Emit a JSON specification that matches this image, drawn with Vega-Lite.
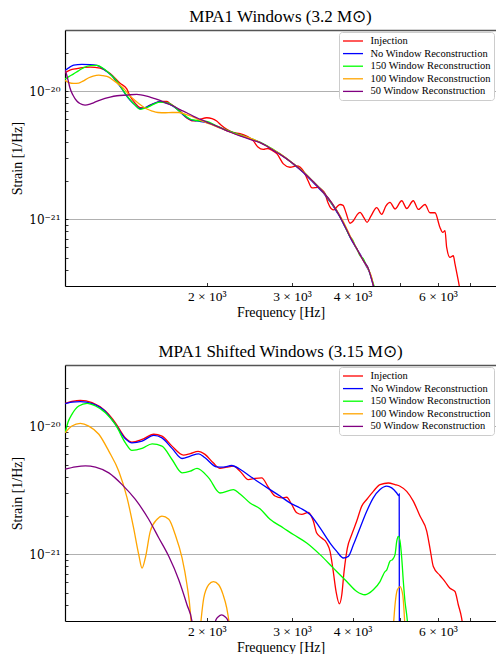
{
"$schema": "https://vega.github.io/schema/vega-lite/v6.json",
"padding": {"left": 10, "top": 8, "right": 0, "bottom": 0},
"spacing": 24,
"config": {
  "font": "Liberation Serif",
  "view": {"stroke": null},
  "title": {"font": "Liberation Serif", "fontSize": 17, "fontWeight": "normal", "color": "#000", "offset": 4},
  "axis": {"domainColor": "#000", "domainWidth": 1.2, "tickColor": "#000", "tickWidth": 0.8,
           "labelFont": "Liberation Serif", "labelFontSize": 13.5, "labelColor": "#000",
           "titleFont": "Liberation Serif", "titleFontSize": 14, "titleFontWeight": "normal", "titleColor": "#000"},
  "legend": {"labelFont": "Liberation Serif", "labelFontSize": 10.5, "labelColor": "#000"}
},
"resolve": {"legend": {"color": "independent"}},
"datasets": {
"w": [
{"k":"Injection","f":1020,"s":1.39e-20},{"k":"Injection","f":1044,"s":1.46e-20},{"k":"Injection","f":1079,"s":1.50e-20},{"k":"Injection","f":1149,"s":1.54e-20},{"k":"Injection","f":1205,"s":1.51e-20},{"k":"Injection","f":1264,"s":1.37e-20},{"k":"Injection","f":1325,"s":1.15e-20},{"k":"Injection","f":1368,"s":1.04e-20},{"k":"Injection","f":1389,"s":9.14e-21},{"k":"Injection","f":1423,"s":8.06e-21},{"k":"Injection","f":1457,"s":7.43e-21},{"k":"Injection","f":1492,"s":7.37e-21},{"k":"Injection","f":1528,"s":7.78e-21},{"k":"Injection","f":1565,"s":8.06e-21},{"k":"Injection","f":1602,"s":8.29e-21},{"k":"Injection","f":1654,"s":8.29e-21},{"k":"Injection","f":1680,"s":7.99e-21},{"k":"Injection","f":1720,"s":7.50e-21},{"k":"Injection","f":1762,"s":6.98e-21},{"k":"Injection","f":1819,"s":6.16e-21},{"k":"Injection","f":1877,"s":5.84e-21},{"k":"Injection","f":1937,"s":6.00e-21},{"k":"Injection","f":2000,"s":6.19e-21},{"k":"Injection","f":2051,"s":6.10e-21},{"k":"Injection","f":2097,"s":5.84e-21},{"k":"Injection","f":2140,"s":5.43e-21},{"k":"Injection","f":2200,"s":5.02e-21},{"k":"Injection","f":2266,"s":4.75e-21},{"k":"Injection","f":2343,"s":4.65e-21},{"k":"Injection","f":2418,"s":4.46e-21},{"k":"Injection","f":2457,"s":4.30e-21},{"k":"Injection","f":2496,"s":4.08e-21},{"k":"Injection","f":2551,"s":3.66e-21},{"k":"Injection","f":2617,"s":3.50e-21},{"k":"Injection","f":2676,"s":3.56e-21},{"k":"Injection","f":2741,"s":3.40e-21},{"k":"Injection","f":2793,"s":3.23e-21},{"k":"Injection","f":2879,"s":2.70e-21},{"k":"Injection","f":2971,"s":2.54e-21},{"k":"Injection","f":3068,"s":2.60e-21},{"k":"Injection","f":3166,"s":2.38e-21},{"k":"Injection","f":3237,"s":1.99e-21},{"k":"Injection","f":3299,"s":1.75e-21},{"k":"Injection","f":3400,"s":1.77e-21},{"k":"Injection","f":3460,"s":1.69e-21},{"k":"Injection","f":3509,"s":1.58e-21},{"k":"Injection","f":3559,"s":1.34e-21},{"k":"Injection","f":3611,"s":1.21e-21},{"k":"Injection","f":3662,"s":1.18e-21},{"k":"Injection","f":3715,"s":1.25e-21},{"k":"Injection","f":3769,"s":1.30e-21},{"k":"Injection","f":3823,"s":1.28e-21},{"k":"Injection","f":3877,"s":1.12e-21},{"k":"Injection","f":3952,"s":9.28e-22},{"k":"Injection","f":4015,"s":9.70e-22},{"k":"Injection","f":4086,"s":1.08e-21},{"k":"Injection","f":4144,"s":1.13e-21},{"k":"Injection","f":4224,"s":1.02e-21},{"k":"Injection","f":4285,"s":9.44e-22},{"k":"Injection","f":4367,"s":1.06e-21},{"k":"Injection","f":4486,"s":1.23e-21},{"k":"Injection","f":4594,"s":1.09e-21},{"k":"Injection","f":4688,"s":1.27e-21},{"k":"Injection","f":4778,"s":1.35e-21},{"k":"Injection","f":4894,"s":1.20e-21},{"k":"Injection","f":5052,"s":1.39e-21},{"k":"Injection","f":5173,"s":1.21e-21},{"k":"Injection","f":5337,"s":1.39e-21},{"k":"Injection","f":5466,"s":1.19e-21},{"k":"Injection","f":5643,"s":1.30e-21},{"k":"Injection","f":5778,"s":1.12e-21},{"k":"Injection","f":5917,"s":1.12e-21},{"k":"Injection","f":6059,"s":8.60e-22},{"k":"Injection","f":6138,"s":7.86e-22},{"k":"Injection","f":6205,"s":8.11e-22},{"k":"Injection","f":6255,"s":6.00e-22},{"k":"Injection","f":6354,"s":5.02e-22},{"k":"Injection","f":6455,"s":5.17e-22},{"k":"Injection","f":6507,"s":4.46e-22},{"k":"Injection","f":6610,"s":3.30e-22},{"k":"Injection","f":6700,"s":2.5e-22},
{"k":"No Window Reconstruction","f":1020,"s":1.445e-20},{"k":"No Window Reconstruction","f":1044,"s":1.54e-20},{"k":"No Window Reconstruction","f":1063,"s":1.595e-20},{"k":"No Window Reconstruction","f":1105,"s":1.615e-20},{"k":"No Window Reconstruction","f":1149,"s":1.61e-20},{"k":"No Window Reconstruction","f":1187,"s":1.587e-20},{"k":"No Window Reconstruction","f":1217,"s":1.51e-20},{"k":"No Window Reconstruction","f":1244,"s":1.42e-20},{"k":"No Window Reconstruction","f":1276,"s":1.31e-20},{"k":"No Window Reconstruction","f":1305,"s":1.175e-20},{"k":"No Window Reconstruction","f":1338,"s":1.036e-20},{"k":"No Window Reconstruction","f":1363,"s":9.31e-21},{"k":"No Window Reconstruction","f":1389,"s":8.51e-21},{"k":"No Window Reconstruction","f":1423,"s":7.78e-21},{"k":"No Window Reconstruction","f":1457,"s":7.30e-21},{"k":"No Window Reconstruction","f":1492,"s":7.43e-21},{"k":"No Window Reconstruction","f":1528,"s":7.74e-21},{"k":"No Window Reconstruction","f":1565,"s":8.06e-21},{"k":"No Window Reconstruction","f":1602,"s":8.26e-21},{"k":"No Window Reconstruction","f":1641,"s":8.14e-21},{"k":"No Window Reconstruction","f":1680,"s":7.88e-21},{"k":"No Window Reconstruction","f":1736,"s":7.24e-21},{"k":"No Window Reconstruction","f":1790,"s":6.50e-21},{"k":"No Window Reconstruction","f":1847,"s":6.00e-21},{"k":"No Window Reconstruction","f":1907,"s":5.84e-21},{"k":"No Window Reconstruction","f":2000,"s":5.68e-21},{"k":"No Window Reconstruction","f":2080,"s":5.38e-21},{"k":"No Window Reconstruction","f":2164,"s":5.03e-21},{"k":"No Window Reconstruction","f":2255,"s":4.75e-21},{"k":"No Window Reconstruction","f":2343,"s":4.50e-21},{"k":"No Window Reconstruction","f":2496,"s":4.15e-21},{"k":"No Window Reconstruction","f":2576,"s":3.97e-21},{"k":"No Window Reconstruction","f":2659,"s":3.72e-21},{"k":"No Window Reconstruction","f":2741,"s":3.46e-21},{"k":"No Window Reconstruction","f":2834,"s":3.21e-21},{"k":"No Window Reconstruction","f":2929,"s":2.95e-21},{"k":"No Window Reconstruction","f":3019,"s":2.685e-21},{"k":"No Window Reconstruction","f":3087,"s":2.51e-21},{"k":"No Window Reconstruction","f":3166,"s":2.31e-21},{"k":"No Window Reconstruction","f":3237,"s":2.12e-21},{"k":"No Window Reconstruction","f":3319,"s":1.93e-21},{"k":"No Window Reconstruction","f":3394,"s":1.77e-21},{"k":"No Window Reconstruction","f":3481,"s":1.60e-21},{"k":"No Window Reconstruction","f":3543,"s":1.465e-21},{"k":"No Window Reconstruction","f":3623,"s":1.315e-21},{"k":"No Window Reconstruction","f":3710,"s":1.14e-21},{"k":"No Window Reconstruction","f":3769,"s":1.035e-21},{"k":"No Window Reconstruction","f":3829,"s":9.20e-22},{"k":"No Window Reconstruction","f":3896,"s":8.11e-22},{"k":"No Window Reconstruction","f":3952,"s":7.21e-22},{"k":"No Window Reconstruction","f":4009,"s":6.53e-22},{"k":"No Window Reconstruction","f":4080,"s":5.84e-22},{"k":"No Window Reconstruction","f":4144,"s":5.32e-22},{"k":"No Window Reconstruction","f":4210,"s":4.77e-22},{"k":"No Window Reconstruction","f":4264,"s":4.32e-22},{"k":"No Window Reconstruction","f":4311,"s":4.02e-22},{"k":"No Window Reconstruction","f":4346,"s":3.74e-22},{"k":"No Window Reconstruction","f":4381,"s":3.37e-22},{"k":"No Window Reconstruction","f":4414,"s":3.0e-22},{"k":"No Window Reconstruction","f":4450,"s":2.66e-22},
{"k":"150 Window Reconstruction","f":1020,"s":1.24e-20},{"k":"150 Window Reconstruction","f":1039,"s":1.298e-20},{"k":"150 Window Reconstruction","f":1061,"s":1.357e-20},{"k":"150 Window Reconstruction","f":1085,"s":1.432e-20},{"k":"150 Window Reconstruction","f":1113,"s":1.52e-20},{"k":"150 Window Reconstruction","f":1149,"s":1.58e-20},{"k":"150 Window Reconstruction","f":1187,"s":1.587e-20},{"k":"150 Window Reconstruction","f":1211,"s":1.539e-20},{"k":"150 Window Reconstruction","f":1234,"s":1.47e-20},{"k":"150 Window Reconstruction","f":1264,"s":1.357e-20},{"k":"150 Window Reconstruction","f":1305,"s":1.197e-20},{"k":"150 Window Reconstruction","f":1344,"s":1.018e-20},{"k":"150 Window Reconstruction","f":1389,"s":8.58e-21},{"k":"150 Window Reconstruction","f":1423,"s":7.78e-21},{"k":"150 Window Reconstruction","f":1457,"s":7.20e-21},{"k":"150 Window Reconstruction","f":1492,"s":7.37e-21},{"k":"150 Window Reconstruction","f":1528,"s":7.64e-21},{"k":"150 Window Reconstruction","f":1565,"s":7.99e-21},{"k":"150 Window Reconstruction","f":1602,"s":8.21e-21},{"k":"150 Window Reconstruction","f":1641,"s":8.14e-21},{"k":"150 Window Reconstruction","f":1680,"s":7.96e-21},{"k":"150 Window Reconstruction","f":1736,"s":7.24e-21},{"k":"150 Window Reconstruction","f":1790,"s":6.58e-21},{"k":"150 Window Reconstruction","f":1847,"s":6.05e-21},{"k":"150 Window Reconstruction","f":1907,"s":5.89e-21},{"k":"150 Window Reconstruction","f":2000,"s":5.79e-21},{"k":"150 Window Reconstruction","f":2080,"s":5.43e-21},{"k":"150 Window Reconstruction","f":2164,"s":5.06e-21},{"k":"150 Window Reconstruction","f":2255,"s":4.79e-21},{"k":"150 Window Reconstruction","f":2343,"s":4.54e-21},{"k":"150 Window Reconstruction","f":2496,"s":4.19e-21},{"k":"150 Window Reconstruction","f":2659,"s":3.76e-21},{"k":"150 Window Reconstruction","f":2834,"s":3.23e-21},{"k":"150 Window Reconstruction","f":3019,"s":2.70e-21},{"k":"150 Window Reconstruction","f":3166,"s":2.34e-21},{"k":"150 Window Reconstruction","f":3319,"s":1.955e-21},{"k":"150 Window Reconstruction","f":3481,"s":1.63e-21},{"k":"150 Window Reconstruction","f":3623,"s":1.32e-21},{"k":"150 Window Reconstruction","f":3710,"s":1.16e-21},{"k":"150 Window Reconstruction","f":3829,"s":9.36e-22},{"k":"150 Window Reconstruction","f":3952,"s":7.28e-22},{"k":"150 Window Reconstruction","f":4009,"s":6.77e-22},{"k":"150 Window Reconstruction","f":4047,"s":6.19e-22},{"k":"150 Window Reconstruction","f":4086,"s":5.82e-22},{"k":"150 Window Reconstruction","f":4144,"s":5.17e-22},{"k":"150 Window Reconstruction","f":4210,"s":4.90e-22},{"k":"150 Window Reconstruction","f":4264,"s":4.40e-22},{"k":"150 Window Reconstruction","f":4311,"s":4.10e-22},{"k":"150 Window Reconstruction","f":4346,"s":3.74e-22},{"k":"150 Window Reconstruction","f":4388,"s":3.36e-22},{"k":"150 Window Reconstruction","f":4429,"s":3.0e-22},{"k":"150 Window Reconstruction","f":4461,"s":2.66e-22},
{"k":"100 Window Reconstruction","f":1020,"s":1.212e-20},{"k":"100 Window Reconstruction","f":1039,"s":1.165e-20},{"k":"100 Window Reconstruction","f":1063,"s":1.148e-20},{"k":"100 Window Reconstruction","f":1089,"s":1.154e-20},{"k":"100 Window Reconstruction","f":1111,"s":1.197e-20},{"k":"100 Window Reconstruction","f":1142,"s":1.27e-20},{"k":"100 Window Reconstruction","f":1166,"s":1.309e-20},{"k":"100 Window Reconstruction","f":1198,"s":1.333e-20},{"k":"100 Window Reconstruction","f":1222,"s":1.32e-20},{"k":"100 Window Reconstruction","f":1256,"s":1.286e-20},{"k":"100 Window Reconstruction","f":1282,"s":1.218e-20},{"k":"100 Window Reconstruction","f":1317,"s":1.128e-20},{"k":"100 Window Reconstruction","f":1351,"s":1.036e-20},{"k":"100 Window Reconstruction","f":1380,"s":9.43e-21},{"k":"100 Window Reconstruction","f":1423,"s":8.44e-21},{"k":"100 Window Reconstruction","f":1471,"s":7.64e-21},{"k":"100 Window Reconstruction","f":1506,"s":7.24e-21},{"k":"100 Window Reconstruction","f":1543,"s":6.98e-21},{"k":"100 Window Reconstruction","f":1587,"s":6.80e-21},{"k":"100 Window Reconstruction","f":1643,"s":6.77e-21},{"k":"100 Window Reconstruction","f":1696,"s":6.80e-21},{"k":"100 Window Reconstruction","f":1751,"s":6.80e-21},{"k":"100 Window Reconstruction","f":1804,"s":6.62e-21},{"k":"100 Window Reconstruction","f":1865,"s":6.33e-21},{"k":"100 Window Reconstruction","f":1956,"s":5.84e-21},{"k":"100 Window Reconstruction","f":2032,"s":5.53e-21},{"k":"100 Window Reconstruction","f":2130,"s":5.15e-21},{"k":"100 Window Reconstruction","f":2234,"s":4.79e-21},{"k":"100 Window Reconstruction","f":2343,"s":4.50e-21},{"k":"100 Window Reconstruction","f":2496,"s":4.19e-21},{"k":"100 Window Reconstruction","f":2659,"s":3.72e-21},{"k":"100 Window Reconstruction","f":2834,"s":3.23e-21},{"k":"100 Window Reconstruction","f":3019,"s":2.70e-21},{"k":"100 Window Reconstruction","f":3166,"s":2.34e-21},{"k":"100 Window Reconstruction","f":3319,"s":1.955e-21},{"k":"100 Window Reconstruction","f":3481,"s":1.62e-21},{"k":"100 Window Reconstruction","f":3623,"s":1.34e-21},{"k":"100 Window Reconstruction","f":3710,"s":1.17e-21},{"k":"100 Window Reconstruction","f":3829,"s":9.53e-22},{"k":"100 Window Reconstruction","f":3952,"s":7.41e-22},{"k":"100 Window Reconstruction","f":4080,"s":5.87e-22},{"k":"100 Window Reconstruction","f":4210,"s":4.73e-22},{"k":"100 Window Reconstruction","f":4311,"s":4.06e-22},{"k":"100 Window Reconstruction","f":4381,"s":3.48e-22},{"k":"100 Window Reconstruction","f":4418,"s":3.0e-22},{"k":"100 Window Reconstruction","f":4450,"s":2.66e-22},
{"k":"50 Window Reconstruction","f":1020,"s":1.458e-20},{"k":"50 Window Reconstruction","f":1025,"s":1.389e-20},{"k":"50 Window Reconstruction","f":1035,"s":1.218e-20},{"k":"50 Window Reconstruction","f":1044,"s":1.061e-20},{"k":"50 Window Reconstruction","f":1059,"s":9.31e-21},{"k":"50 Window Reconstruction","f":1079,"s":8.36e-21},{"k":"50 Window Reconstruction","f":1095,"s":7.99e-21},{"k":"50 Window Reconstruction","f":1122,"s":7.78e-21},{"k":"50 Window Reconstruction","f":1149,"s":7.92e-21},{"k":"50 Window Reconstruction","f":1168,"s":8.10e-21},{"k":"50 Window Reconstruction","f":1205,"s":8.51e-21},{"k":"50 Window Reconstruction","f":1264,"s":8.98e-21},{"k":"50 Window Reconstruction","f":1306,"s":9.19e-21},{"k":"50 Window Reconstruction","f":1368,"s":9.31e-21},{"k":"50 Window Reconstruction","f":1434,"s":9.43e-21},{"k":"50 Window Reconstruction","f":1504,"s":9.14e-21},{"k":"50 Window Reconstruction","f":1550,"s":8.82e-21},{"k":"50 Window Reconstruction","f":1602,"s":8.46e-21},{"k":"50 Window Reconstruction","f":1649,"s":8.06e-21},{"k":"50 Window Reconstruction","f":1706,"s":7.64e-21},{"k":"50 Window Reconstruction","f":1762,"s":7.17e-21},{"k":"50 Window Reconstruction","f":1819,"s":6.77e-21},{"k":"50 Window Reconstruction","f":1874,"s":6.38e-21},{"k":"50 Window Reconstruction","f":1937,"s":6.03e-21},{"k":"50 Window Reconstruction","f":2032,"s":5.58e-21},{"k":"50 Window Reconstruction","f":2130,"s":5.18e-21},{"k":"50 Window Reconstruction","f":2234,"s":4.79e-21},{"k":"50 Window Reconstruction","f":2343,"s":4.46e-21},{"k":"50 Window Reconstruction","f":2457,"s":4.19e-21},{"k":"50 Window Reconstruction","f":2576,"s":3.96e-21},{"k":"50 Window Reconstruction","f":2659,"s":3.72e-21},{"k":"50 Window Reconstruction","f":2745,"s":3.44e-21},{"k":"50 Window Reconstruction","f":2834,"s":3.20e-21},{"k":"50 Window Reconstruction","f":3019,"s":2.70e-21},{"k":"50 Window Reconstruction","f":3166,"s":2.32e-21},{"k":"50 Window Reconstruction","f":3319,"s":1.955e-21},{"k":"50 Window Reconstruction","f":3481,"s":1.62e-21},{"k":"50 Window Reconstruction","f":3623,"s":1.34e-21},{"k":"50 Window Reconstruction","f":3710,"s":1.16e-21},{"k":"50 Window Reconstruction","f":3829,"s":9.28e-22},{"k":"50 Window Reconstruction","f":3952,"s":7.28e-22},{"k":"50 Window Reconstruction","f":4080,"s":5.87e-22},{"k":"50 Window Reconstruction","f":4210,"s":4.73e-22},{"k":"50 Window Reconstruction","f":4311,"s":4.10e-22},{"k":"50 Window Reconstruction","f":4381,"s":3.36e-22},{"k":"50 Window Reconstruction","f":4418,"s":3.0e-22},{"k":"50 Window Reconstruction","f":4450,"s":2.66e-22}
],
"sh": [
{"k":"Injection","f":1021,"s":1.506e-20},{"k":"Injection","f":1054,"s":1.556e-20},{"k":"Injection","f":1097,"s":1.59e-20},{"k":"Injection","f":1160,"s":1.523e-20},{"k":"Injection","f":1236,"s":1.311e-20},{"k":"Injection","f":1296,"s":1.061e-20},{"k":"Injection","f":1359,"s":8.09e-21},{"k":"Injection","f":1402,"s":7.49e-21},{"k":"Injection","f":1471,"s":7.86e-21},{"k":"Injection","f":1555,"s":8.63e-21},{"k":"Injection","f":1617,"s":8.36e-21},{"k":"Injection","f":1696,"s":6.97e-21},{"k":"Injection","f":1790,"s":5.94e-21},{"k":"Injection","f":1850,"s":6.10e-21},{"k":"Injection","f":1920,"s":6.35e-21},{"k":"Injection","f":1984,"s":6.01e-21},{"k":"Injection","f":2063,"s":5.16e-21},{"k":"Injection","f":2130,"s":4.68e-21},{"k":"Injection","f":2200,"s":4.78e-21},{"k":"Injection","f":2270,"s":4.86e-21},{"k":"Injection","f":2343,"s":4.44e-21},{"k":"Injection","f":2437,"s":3.82e-21},{"k":"Injection","f":2516,"s":3.90e-21},{"k":"Injection","f":2597,"s":3.94e-21},{"k":"Injection","f":2680,"s":3.33e-21},{"k":"Injection","f":2767,"s":2.84e-21},{"k":"Injection","f":2857,"s":2.75e-21},{"k":"Injection","f":2925,"s":2.78e-21},{"k":"Injection","f":2995,"s":2.44e-21},{"k":"Injection","f":3068,"s":2.10e-21},{"k":"Injection","f":3141,"s":2.04e-21},{"k":"Injection","f":3242,"s":2.12e-21},{"k":"Injection","f":3319,"s":1.81e-21},{"k":"Injection","f":3373,"s":1.46e-21},{"k":"Injection","f":3455,"s":1.335e-21},{"k":"Injection","f":3537,"s":1.22e-21},{"k":"Injection","f":3594,"s":1.05e-21},{"k":"Injection","f":3641,"s":7.77e-22},{"k":"Injection","f":3698,"s":5.10e-22},{"k":"Injection","f":3757,"s":4.09e-22},{"k":"Injection","f":3800,"s":4.81e-22},{"k":"Injection","f":3841,"s":7.3e-22},{"k":"Injection","f":3901,"s":1.11e-21},{"k":"Injection","f":3984,"s":1.42e-21},{"k":"Injection","f":4080,"s":1.81e-21},{"k":"Injection","f":4178,"s":2.37e-21},{"k":"Injection","f":4278,"s":2.67e-21},{"k":"Injection","f":4414,"s":3.09e-21},{"k":"Injection","f":4557,"s":3.49e-21},{"k":"Injection","f":4740,"s":3.59e-21},{"k":"Injection","f":4894,"s":3.49e-21},{"k":"Injection","f":5011,"s":3.39e-21},{"k":"Injection","f":5173,"s":3.09e-21},{"k":"Injection","f":5337,"s":2.59e-21},{"k":"Injection","f":5510,"s":1.98e-21},{"k":"Injection","f":5689,"s":1.51e-21},{"k":"Injection","f":5778,"s":1.11e-21},{"k":"Injection","f":5870,"s":8.0e-22},{"k":"Injection","f":6059,"s":6.8e-22},{"k":"Injection","f":6205,"s":6.1e-22},{"k":"Injection","f":6354,"s":5.4e-22},{"k":"Injection","f":6507,"s":5.1e-22},{"k":"Injection","f":6610,"s":4.02e-22},{"k":"Injection","f":6717,"s":3.15e-22},{"k":"Injection","f":6759,"s":2.7e-22},
{"k":"No Window Reconstruction","f":1021,"s":1.495e-20},{"k":"No Window Reconstruction","f":1054,"s":1.54e-20},{"k":"No Window Reconstruction","f":1097,"s":1.55e-20},{"k":"No Window Reconstruction","f":1160,"s":1.495e-20},{"k":"No Window Reconstruction","f":1236,"s":1.295e-20},{"k":"No Window Reconstruction","f":1296,"s":1.03e-20},{"k":"No Window Reconstruction","f":1359,"s":7.95e-21},{"k":"No Window Reconstruction","f":1402,"s":7.39e-21},{"k":"No Window Reconstruction","f":1471,"s":7.63e-21},{"k":"No Window Reconstruction","f":1555,"s":8.47e-21},{"k":"No Window Reconstruction","f":1617,"s":8.09e-21},{"k":"No Window Reconstruction","f":1696,"s":6.69e-21},{"k":"No Window Reconstruction","f":1779,"s":5.58e-21},{"k":"No Window Reconstruction","f":1850,"s":5.83e-21},{"k":"No Window Reconstruction","f":1925,"s":6.07e-21},{"k":"No Window Reconstruction","f":1984,"s":5.65e-21},{"k":"No Window Reconstruction","f":2097,"s":4.80e-21},{"k":"No Window Reconstruction","f":2164,"s":4.78e-21},{"k":"No Window Reconstruction","f":2252,"s":4.92e-21},{"k":"No Window Reconstruction","f":2343,"s":4.60e-21},{"k":"No Window Reconstruction","f":2457,"s":4.06e-21},{"k":"No Window Reconstruction","f":2576,"s":3.59e-21},{"k":"No Window Reconstruction","f":2702,"s":3.19e-21},{"k":"No Window Reconstruction","f":2834,"s":2.84e-21},{"k":"No Window Reconstruction","f":2971,"s":2.51e-21},{"k":"No Window Reconstruction","f":3116,"s":2.29e-21},{"k":"No Window Reconstruction","f":3268,"s":2.04e-21},{"k":"No Window Reconstruction","f":3427,"s":1.60e-21},{"k":"No Window Reconstruction","f":3594,"s":1.22e-21},{"k":"No Window Reconstruction","f":3710,"s":1.05e-21},{"k":"No Window Reconstruction","f":3829,"s":9.32e-22},{"k":"No Window Reconstruction","f":3920,"s":9.6e-22},{"k":"No Window Reconstruction","f":4015,"s":1.18e-21},{"k":"No Window Reconstruction","f":4144,"s":1.60e-21},{"k":"No Window Reconstruction","f":4278,"s":2.16e-21},{"k":"No Window Reconstruction","f":4414,"s":2.75e-21},{"k":"No Window Reconstruction","f":4557,"s":3.19e-21},{"k":"No Window Reconstruction","f":4704,"s":3.39e-21},{"k":"No Window Reconstruction","f":4817,"s":3.29e-21},{"k":"No Window Reconstruction","f":4934,"s":3.0e-21},{"k":"No Window Reconstruction","f":4985,"s":2.85e-21},{"k":"No Window Reconstruction","f":4992,"s":2.95e-21},{"k":"No Window Reconstruction","f":4996,"s":2.0e-22},
{"k":"150 Window Reconstruction","f":1021,"s":8.87e-21},{"k":"150 Window Reconstruction","f":1035,"s":1.075e-20},{"k":"150 Window Reconstruction","f":1054,"s":1.235e-20},{"k":"150 Window Reconstruction","f":1089,"s":1.435e-20},{"k":"150 Window Reconstruction","f":1133,"s":1.506e-20},{"k":"150 Window Reconstruction","f":1179,"s":1.435e-20},{"k":"150 Window Reconstruction","f":1236,"s":1.272e-20},{"k":"150 Window Reconstruction","f":1296,"s":1.03e-20},{"k":"150 Window Reconstruction","f":1359,"s":7.39e-21},{"k":"150 Window Reconstruction","f":1402,"s":6.46e-21},{"k":"150 Window Reconstruction","f":1471,"s":6.69e-21},{"k":"150 Window Reconstruction","f":1543,"s":7.26e-21},{"k":"150 Window Reconstruction","f":1617,"s":6.97e-21},{"k":"150 Window Reconstruction","f":1696,"s":5.48e-21},{"k":"150 Window Reconstruction","f":1779,"s":4.31e-21},{"k":"150 Window Reconstruction","f":1850,"s":4.44e-21},{"k":"150 Window Reconstruction","f":1910,"s":4.68e-21},{"k":"150 Window Reconstruction","f":2019,"s":3.94e-21},{"k":"150 Window Reconstruction","f":2130,"s":3.0e-21},{"k":"150 Window Reconstruction","f":2270,"s":3.19e-21},{"k":"150 Window Reconstruction","f":2343,"s":2.95e-21},{"k":"150 Window Reconstruction","f":2457,"s":2.51e-21},{"k":"150 Window Reconstruction","f":2576,"s":2.26e-21},{"k":"150 Window Reconstruction","f":2702,"s":1.87e-21},{"k":"150 Window Reconstruction","f":2879,"s":1.60e-21},{"k":"150 Window Reconstruction","f":3019,"s":1.42e-21},{"k":"150 Window Reconstruction","f":3217,"s":1.22e-21},{"k":"150 Window Reconstruction","f":3427,"s":9.9e-22},{"k":"150 Window Reconstruction","f":3651,"s":7.77e-22},{"k":"150 Window Reconstruction","f":3890,"s":6.1e-22},{"k":"150 Window Reconstruction","f":4080,"s":5.10e-22},{"k":"150 Window Reconstruction","f":4244,"s":4.81e-22},{"k":"150 Window Reconstruction","f":4414,"s":5.26e-22},{"k":"150 Window Reconstruction","f":4557,"s":6.1e-22},{"k":"150 Window Reconstruction","f":4666,"s":7.3e-22},{"k":"150 Window Reconstruction","f":4703,"s":7.5e-22},{"k":"150 Window Reconstruction","f":4778,"s":8.8e-22},{"k":"150 Window Reconstruction","f":4840,"s":9.1e-22},{"k":"150 Window Reconstruction","f":4894,"s":9.9e-22},{"k":"150 Window Reconstruction","f":4934,"s":1.26e-21},{"k":"150 Window Reconstruction","f":4971,"s":1.375e-21},{"k":"150 Window Reconstruction","f":5011,"s":1.26e-21},{"k":"150 Window Reconstruction","f":5052,"s":9.32e-22},{"k":"150 Window Reconstruction","f":5091,"s":6.1e-22},{"k":"150 Window Reconstruction","f":5131,"s":4.26e-22},{"k":"150 Window Reconstruction","f":5173,"s":3.35e-22},{"k":"150 Window Reconstruction","f":5205,"s":2.7e-22},
{"k":"100 Window Reconstruction","g":1,"f":1021,"s":8.87e-21},{"k":"100 Window Reconstruction","g":1,"f":1054,"s":1.0e-20},{"k":"100 Window Reconstruction","g":1,"f":1097,"s":1.049e-20},{"k":"100 Window Reconstruction","g":1,"f":1142,"s":1.0e-20},{"k":"100 Window Reconstruction","g":1,"f":1198,"s":8.63e-21},{"k":"100 Window Reconstruction","g":1,"f":1256,"s":6.37e-21},{"k":"100 Window Reconstruction","g":1,"f":1317,"s":4.44e-21},{"k":"100 Window Reconstruction","g":1,"f":1370,"s":2.75e-21},{"k":"100 Window Reconstruction","g":1,"f":1413,"s":1.60e-21},{"k":"100 Window Reconstruction","g":1,"f":1448,"s":9.9e-22},{"k":"100 Window Reconstruction","g":1,"f":1471,"s":7.77e-22},{"k":"100 Window Reconstruction","g":1,"f":1494,"s":9.32e-22},{"k":"100 Window Reconstruction","g":1,"f":1530,"s":1.51e-21},{"k":"100 Window Reconstruction","g":1,"f":1580,"s":1.87e-21},{"k":"100 Window Reconstruction","g":1,"f":1617,"s":1.98e-21},{"k":"100 Window Reconstruction","g":1,"f":1670,"s":1.87e-21},{"k":"100 Window Reconstruction","g":1,"f":1722,"s":1.42e-21},{"k":"100 Window Reconstruction","g":1,"f":1779,"s":9.32e-22},{"k":"100 Window Reconstruction","g":1,"f":1821,"s":5.76e-22},{"k":"100 Window Reconstruction","g":1,"f":1850,"s":3.56e-22},{"k":"100 Window Reconstruction","g":1,"f":1862,"s":2.5e-22},
{"k":"100 Window Reconstruction","g":2,"f":1937,"s":2.5e-22},{"k":"100 Window Reconstruction","g":2,"f":1972,"s":4.52e-22},{"k":"100 Window Reconstruction","g":2,"f":2019,"s":5.76e-22},{"k":"100 Window Reconstruction","g":2,"f":2065,"s":6.1e-22},{"k":"100 Window Reconstruction","g":2,"f":2117,"s":5.76e-22},{"k":"100 Window Reconstruction","g":2,"f":2161,"s":4.84e-22},{"k":"100 Window Reconstruction","g":2,"f":2200,"s":3.78e-22},{"k":"100 Window Reconstruction","g":2,"f":2223,"s":2.97e-22},{"k":"100 Window Reconstruction","g":2,"f":2234,"s":2.5e-22},
{"k":"100 Window Reconstruction","g":3,"f":4848,"s":2.5e-22},{"k":"100 Window Reconstruction","g":3,"f":4894,"s":4.02e-22},{"k":"100 Window Reconstruction","g":3,"f":4948,"s":5.26e-22},{"k":"100 Window Reconstruction","g":3,"f":5011,"s":5.57e-22},{"k":"100 Window Reconstruction","g":3,"f":5076,"s":4.81e-22},{"k":"100 Window Reconstruction","g":3,"f":5136,"s":2.5e-22},
{"k":"50 Window Reconstruction","g":1,"f":1021,"s":4.60e-21},{"k":"50 Window Reconstruction","g":1,"f":1072,"s":4.80e-21},{"k":"50 Window Reconstruction","g":1,"f":1124,"s":4.89e-21},{"k":"50 Window Reconstruction","g":1,"f":1179,"s":4.78e-21},{"k":"50 Window Reconstruction","g":1,"f":1256,"s":4.31e-21},{"k":"50 Window Reconstruction","g":1,"f":1338,"s":3.49e-21},{"k":"50 Window Reconstruction","g":1,"f":1425,"s":2.67e-21},{"k":"50 Window Reconstruction","g":1,"f":1518,"s":1.87e-21},{"k":"50 Window Reconstruction","g":1,"f":1593,"s":1.335e-21},{"k":"50 Window Reconstruction","g":1,"f":1670,"s":9.6e-22},{"k":"50 Window Reconstruction","g":1,"f":1751,"s":6.3e-22},{"k":"50 Window Reconstruction","g":1,"f":1821,"s":4.02e-22},{"k":"50 Window Reconstruction","g":1,"f":1865,"s":2.97e-22},{"k":"50 Window Reconstruction","g":1,"f":1874,"s":2.5e-22},
{"k":"50 Window Reconstruction","g":2,"f":2063,"s":2.5e-22},{"k":"50 Window Reconstruction","g":2,"f":2090,"s":3.07e-22},{"k":"50 Window Reconstruction","g":2,"f":2113,"s":3.24e-22},{"k":"50 Window Reconstruction","g":2,"f":2147,"s":3.35e-22},{"k":"50 Window Reconstruction","g":2,"f":2182,"s":3.24e-22},{"k":"50 Window Reconstruction","g":2,"f":2208,"s":3.07e-22},{"k":"50 Window Reconstruction","g":2,"f":2234,"s":2.5e-22}
]
},
"vconcat": [
{
  "title": "MPA1 Windows (3.2 M⊙)",
  "width": 431, "height": 256,
  "data": {"name": "w"},
  "resolve": {"axis": {"x": "independent"}},
  "layer": [
    {
      "mark": {"type": "line", "interpolate": "monotone", "strokeWidth": 1.3, "clip": true},
      "encoding": {
        "x": {"field": "f", "type": "quantitative", "scale": {"type": "log", "domain": [1020, 7907], "nice": false},
              "axis": {"values": [2000,3000,4000,5000,6000,7000], "labelExpr": "datum.value == 5000 || datum.value == 7000 ? '' : format(datum.value/1000, 'd') + ' × 10³'",
                       "title": "Frequency [Hz]", "tickSize": -3.5, "labelPadding": 7, "titlePadding": 2, "labelFlush": false, "labelOverlap": false, "grid": false}},
        "y": {"field": "s", "type": "quantitative", "scale": {"type": "log", "domain": [3e-22, 3e-20], "nice": false},
              "axis": {"values": [4e-22,5e-22,6e-22,7e-22,8e-22,9e-22,1e-21,2e-21,3e-21,4e-21,5e-21,6e-21,7e-21,8e-21,9e-21,1e-20,2e-20],
                       "labelExpr": "abs(log(datum.value)/LN10 + 20) < 0.01 ? '10⁻²⁰' : (abs(log(datum.value)/LN10 + 21) < 0.01 ? '10⁻²¹' : '')",
                       "labelFont": "DejaVu Serif", "labelFontSize": 12,
                       "grid": true, "gridColor": "#b0b0b0", "gridWidth": 1,
                       "gridOpacity": {"condition": {"test": "abs(log(datum.value)/LN10 + 20) < 0.01 || abs(log(datum.value)/LN10 + 21) < 0.01", "value": 1}, "value": 0},
                       "tickSize": -3, "labelPadding": 8, "minExtent": 36, "maxExtent": 36, "title": "Strain [1/Hz]", "titlePadding": 5, "labelOverlap": false}},
        "color": {"field": "k", "type": "nominal",
                  "scale": {"domain": ["Injection","No Window Reconstruction","150 Window Reconstruction","100 Window Reconstruction","50 Window Reconstruction"],
                            "range": ["#ff0000","#0000ff","#00ff00","#ffa500","#800080"]},
                  "legend": {"title": null, "orient": "top-right", "offset": 2, "fillColor": "#ffffff", "strokeColor": "#cccccc", "cornerRadius": 3, "padding": 3,
                             "symbolType": "M-1,0H3", "symbolSize": 100, "symbolStrokeWidth": 1.3, "labelOffset": 16.5, "rowPadding": 0.6}},
        "detail": {"field": "g", "type": "nominal"}
      }
    },
    {
      "mark": {"type": "rule", "opacity": 0},
      "encoding": {
        "x": {"field": "f", "type": "quantitative", "axis": {"orient": "top", "labels": false, "ticks": false, "title": null, "domainColor": "#555555", "domainWidth": 1.5, "grid": false, "minExtent": 0, "maxExtent": 0, "offset": 0}}
      }
    }
  ]
},
{
  "title": "MPA1 Shifted Windows (3.15 M⊙)",
  "width": 431, "height": 256,
  "data": {"name": "sh"},
  "resolve": {"axis": {"x": "independent"}},
  "layer": [
    {
      "mark": {"type": "line", "interpolate": "monotone", "strokeWidth": 1.3, "clip": true},
      "encoding": {
        "x": {"field": "f", "type": "quantitative", "scale": {"type": "log", "domain": [1020, 7907], "nice": false},
              "axis": {"values": [2000,3000,4000,5000,6000,7000], "labelExpr": "datum.value == 5000 || datum.value == 7000 ? '' : format(datum.value/1000, 'd') + ' × 10³'",
                       "title": "Frequency [Hz]", "tickSize": -3.5, "labelPadding": 7, "titlePadding": 2, "labelFlush": false, "labelOverlap": false, "grid": false}},
        "y": {"field": "s", "type": "quantitative", "scale": {"type": "log", "domain": [3e-22, 3e-20], "nice": false},
              "axis": {"values": [4e-22,5e-22,6e-22,7e-22,8e-22,9e-22,1e-21,2e-21,3e-21,4e-21,5e-21,6e-21,7e-21,8e-21,9e-21,1e-20,2e-20],
                       "labelExpr": "abs(log(datum.value)/LN10 + 20) < 0.01 ? '10⁻²⁰' : (abs(log(datum.value)/LN10 + 21) < 0.01 ? '10⁻²¹' : '')",
                       "labelFont": "DejaVu Serif", "labelFontSize": 12,
                       "grid": true, "gridColor": "#b0b0b0", "gridWidth": 1,
                       "gridOpacity": {"condition": {"test": "abs(log(datum.value)/LN10 + 20) < 0.01 || abs(log(datum.value)/LN10 + 21) < 0.01", "value": 1}, "value": 0},
                       "tickSize": -3, "labelPadding": 8, "minExtent": 36, "maxExtent": 36, "title": "Strain [1/Hz]", "titlePadding": 5, "labelOverlap": false}},
        "color": {"field": "k", "type": "nominal",
                  "scale": {"domain": ["Injection","No Window Reconstruction","150 Window Reconstruction","100 Window Reconstruction","50 Window Reconstruction"],
                            "range": ["#ff0000","#0000ff","#00ff00","#ffa500","#800080"]},
                  "legend": {"title": null, "orient": "top-right", "offset": 2, "fillColor": "#ffffff", "strokeColor": "#cccccc", "cornerRadius": 3, "padding": 3,
                             "symbolType": "M-1,0H3", "symbolSize": 100, "symbolStrokeWidth": 1.3, "labelOffset": 16.5, "rowPadding": 0.6}},
        "detail": {"field": "g", "type": "nominal"}
      }
    },
    {
      "mark": {"type": "rule", "opacity": 0},
      "encoding": {
        "x": {"field": "f", "type": "quantitative", "axis": {"orient": "top", "labels": false, "ticks": false, "title": null, "domainColor": "#555555", "domainWidth": 1.5, "grid": false, "minExtent": 0, "maxExtent": 0, "offset": 0}}
      }
    }
  ]
}
]
}
